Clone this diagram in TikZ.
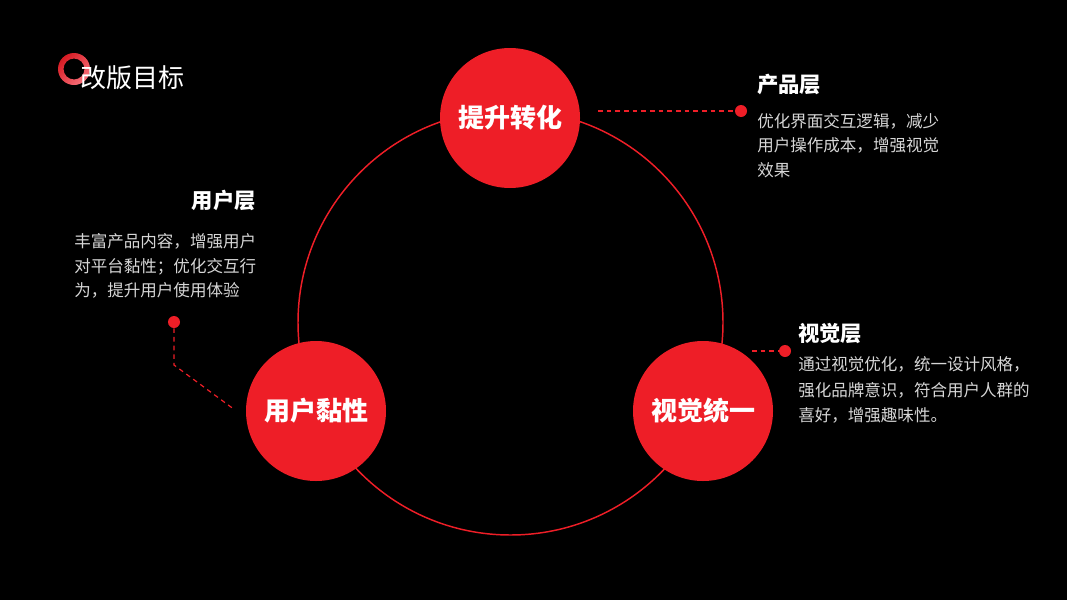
\documentclass[tikz,border=0pt]{standalone}
\usepackage{fontspec}
\setmainfont{Noto Sans CJK SC}
\definecolor{myred}{HTML}{EE1E27}
\definecolor{bodygray}{HTML}{D6D6D6}
\definecolor{ringpink}{HTML}{F8707A}
\begin{document}
\begin{tikzpicture}[x=0.75pt,y=-0.75pt,
  bigdot/.style={circle,fill=myred,minimum size=140*0.75pt,inner sep=0pt,text=white,font=\fontsize{19.5}{22}\selectfont\bfseries},
  smalldot/.style={circle,fill=myred,minimum size=9pt,inner sep=0pt},
  head/.style={text=white,font=\fontsize{16}{19}\selectfont\bfseries,inner sep=0pt},
  body/.style={text=bodygray,font=\fontsize{12.4}{18.4}\selectfont,inner sep=0pt,align=left},
  conn/.style={myred,dashed,line width=0.9pt,dash pattern=on 3.5pt off 3pt}]
\fill[black] (0,0) rectangle (1067,600);
\useasboundingbox (0,0) rectangle (1067,600);
% big ring
\draw[myred,line width=1.1pt] (510.5,322.5) circle (212.5);
% logo ring
\shade[even odd rule,left color=myred!90!black,right color=ringpink,shading angle=45] (74,69) circle (16) (74,69) circle (10.5);
\node[anchor=west,text=white,font=\fontsize{19.5}{22}\selectfont,inner sep=0pt] (title) at (80,78) {改版目标};
% circles
\node[bigdot] (top) at (510,118) {提升转化};
\node[bigdot] (left) at (316,411) {用户黏性};
\node[bigdot] (right) at (703,411) {视觉统一};
% top annotation
\node[smalldot] (d1) at (741,111) {};
\coordinate (c1) at (598,111);
\draw[conn] (c1) -- (d1);
\node[head,anchor=west] (h1) at (757,84) {产品层};
\node[body,anchor=north west] (b1) at (757,113) {优化界面交互逻辑，减少\\用户操作成本，增强视觉\\效果};
% left annotation
\node[head,anchor=east] (h2) at (256,200) {用户层};
\node[body,anchor=north west] (b2) at (74,233.5) {丰富产品内容，增强用户\\对平台黏性；优化交互行\\为，提升用户使用体验};
\node[smalldot] (d2) at (174,322) {};
\coordinate (c2a) at (174,365);
\coordinate (c2b) at (235,410);
\draw[conn] (d2) -- (c2a) -- (c2b);
% right annotation
\node[smalldot] (d3) at (785,351) {};
\coordinate (c3) at (752,351);
\draw[conn] (c3) -- (d3);
\node[head,anchor=west] (h3) at (798,334) {视觉层};
\node[body,anchor=north west,font=\fontsize{12.4}{19.2}\selectfont] (b3) at (798,356.5) {通过视觉优化，统一设计风格，\\强化品牌意识，符合用户人群的\\喜好，增强趣味性。};
\end{tikzpicture}
\end{document}
